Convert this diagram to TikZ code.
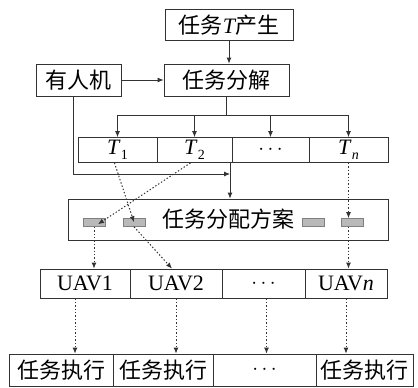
\documentclass[tikz,border=0pt]{standalone}
\usepackage{fontspec}
\setmainfont{Liberation Serif}
\newfontfamily\cjk{Noto Sans CJK SC}
\usetikzlibrary{arrows.meta}

\newcommand{\lowidx}[1]{\raisebox{-0.45ex}{\fontsize{14}{16}\selectfont #1}}

\tikzset{
  box/.style={draw=black!80, line width=0.8pt, inner sep=0pt, minimum height=#1},
  box/.default=32pt,
  zh/.style={font=\cjk\fontsize{22}{26}\selectfont},
  lat/.style={font=\fontsize{22}{26}\selectfont},
  arr/.style={-{Latex[length=6pt,width=5pt]}, line width=0.8pt, draw=black!80},
  dotarr/.style={arr, dash pattern=on 1.4pt off 2pt, line width=1pt},
  blk/.style={draw=gray, fill=gray!55, line width=0.6pt, minimum width=22pt, minimum height=8pt, inner sep=0pt}
}

\begin{document}
\begin{tikzpicture}[x=1pt, y=-1pt]
        \useasboundingbox (0,0) rectangle (418,388);

        % Top part
        \node[box=31pt, zh, minimum width=128pt] (gen) at (229,25) {任务{\rmfamily\itshape T}产生};
        \node[box, zh, minimum width=125pt] (dec) at (226.5,80) {任务分解};
        \node[box, zh, minimum width=85pt] (pilot) at (78.5,80) {有人机};
        \draw[arr] (gen.south) -- (gen.south |- dec.north);
        \draw[arr] (pilot) -- (dec);

        % Subtasks
        \node[box=25pt, lat, minimum width=79pt] (t1) at (117.5,150) {\textit{T}\lowidx{1}};
        \node[box=25pt, lat, minimum width=75pt] (t2) at (194.5,150) {\textit{T}\lowidx{2}};
        \node[box=25pt, lat, minimum width=77pt] (t3) at (270.5,150) {$\cdots$};
        \node[box=25pt, lat, minimum width=79pt] (tn) at (348.5,150) {\textit{T}\lowidx{\textit{n}}};
        \draw[line width=0.8pt, draw=black!80] (dec.south) -- ++(0,19) coordinate (split);
        \draw[line width=0.8pt, draw=black!80] (t1.north |- split) -- (tn.north |- split);
        \foreach \c in {t1,t2,t3,tn}
            \draw[arr] (\c.north |- split) -- (\c.north);

        % Allocation plan
        \node[box=41pt, zh, minimum width=320pt] (plan) at (228,219.5) {任务分配方案};
        \node[blk] (b1) at (94,222.5) {};
        \node[blk] (b2) at (134,222.5) {};
        \node[blk] (b3) at (313,222.5) {};
        \node[blk] (b4) at (352,222.5) {};
        \coordinate (turn) at (73,174);
        \coordinate (join) at (230,162.5);
        \draw[arr] (pilot.south -| turn) -- (turn) -- (turn -| join);
        \draw[arr] (join) -- (join |- plan.north);

        % UAVs
        \node[box=29pt, lat, minimum width=90pt] (u1) at (85,283.5) {UAV1};
        \node[box=29pt, lat, minimum width=92pt] (u2) at (176,283.5) {UAV2};
        \node[box=29pt, lat, minimum width=83pt] (u3) at (263.5,283.5) {$\cdots$};
        \node[box=29pt, lat, minimum width=82pt] (un) at (346,283.5) {UAV\textit{n}};

        % Dotted assignments
        \draw[dotarr] ([xshift=-3pt]t1.south) -- ([yshift=-4pt]b2.north);
        \draw[dotarr] ([xshift=-4pt]t2.south) -- ([xshift=4pt,yshift=-6pt]b1.north);
        \draw[dotarr] (tn.south) -- (tn.south |- b4.north);
        \draw[dotarr] (b1.south) -- (b1.south |- u1.north);
        \draw[dotarr] (b2.south) -- ([xshift=-4pt]u2.north);
        \draw[dotarr] (tn.south |- b4.south) -- (tn.south |- un.north);

        % Execution
        \node[box, zh, minimum width=104pt] (e1) at (61,370) {任务执行};
        \node[box, zh, minimum width=100pt] (e2) at (163,370) {任务执行};
        \node[box, zh, minimum width=103pt] (e3) at (264.5,370) {$\cdots$};
        \node[box, zh, minimum width=97pt] (en) at (364.5,370) {任务执行};
        \draw[dotarr] ([xshift=-10pt]u1.south) -- ([xshift=-10pt]u1.south |- e1.north);
        \draw[dotarr] (u2.south) -- (u2.south |- e2.north);
        \draw[dotarr] ([xshift=3pt]u3.south) -- ([xshift=3pt]u3.south |- e3.north);
        \draw[dotarr] (un.south) -- (un.south |- en.north);
\end{tikzpicture}
\end{document}
